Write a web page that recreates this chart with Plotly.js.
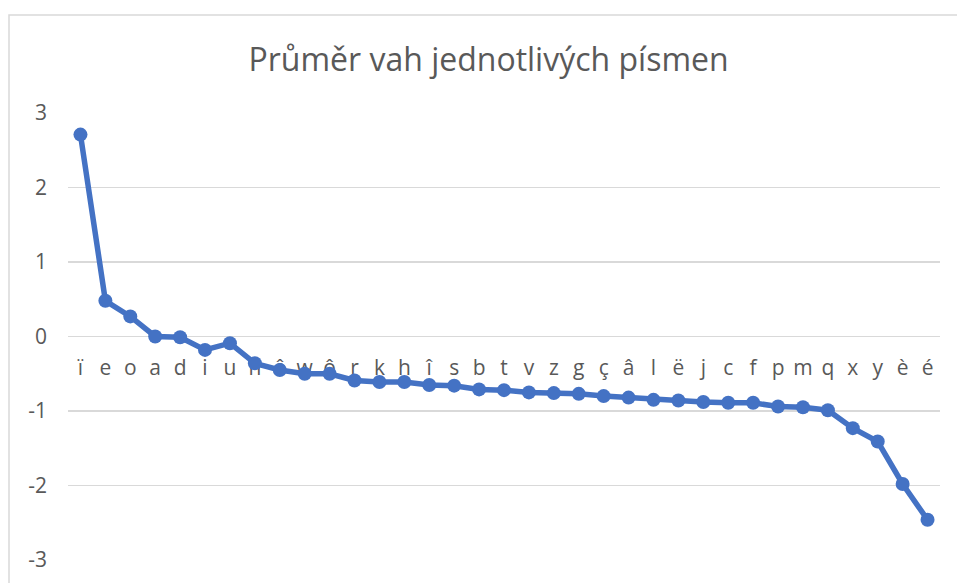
<!DOCTYPE html>
<html>
<head>
<meta charset="utf-8">
<script src="https://cdn.plot.ly/plotly-3.0.1.min.js"></script>
<style>html,body{margin:0;padding:0;background:#fff;}#chart{width:957px;height:583px;}</style>
</head>
<body>
<div id="chart"></div>
<script>
const letters = ["ï","e","o","a","d","i","u","n","ê","w","ô","r","k","h","î","s","b","t","v","z","g","ç","â","l","ë","j","c","f","p","m","q","x","y","è","é"];
const averages = [2.71,0.48,0.27,0.00,-0.01,-0.18,-0.09,-0.36,-0.45,-0.50,-0.50,-0.59,-0.61,-0.61,-0.65,-0.66,-0.71,-0.72,-0.75,-0.76,-0.77,-0.80,-0.82,-0.85,-0.86,-0.88,-0.89,-0.89,-0.94,-0.95,-0.99,-1.23,-1.41,-1.98,-2.46];
const yTicks = [-3,-2,-1,0,1,2,3];
const chartTitle = "Průměr vah jednotlivých písmen";

const textColor = "#595959";
const trace = {
  x: letters,
  y: averages,
  type: "scatter",
  mode: "lines+markers",
  line: {color: "#4472C4", width: 5.5},
  marker: {color: "#4472C4", size: 14},
  hoverinfo: "x+y"
};
const layout = {
  width: 957, height: 583,
  margin: {l: 68, r: 17, t: 113, b: 23},
  paper_bgcolor: "#ffffff", plot_bgcolor: "#ffffff",
  showlegend: false,
  font: {family: "Open Sans, sans-serif", color: textColor},
  title: {
    text: chartTitle,
    font: {family: "Open Sans, sans-serif", size: 32, color: textColor},
    xref: "container", x: 0.5105, xanchor: "center",
    yref: "container", y: 1 - 60/583, yanchor: "middle"
  },
  xaxis: {
    type: "category",
    range: [-0.5, letters.length - 0.5],
    tickmode: "linear", tick0: 0, dtick: 1,
    anchor: "free", position: 0.5,
    showgrid: false, zeroline: false, showline: false,
    ticks: "", ticklabelstandoff: 16,
    tickfont: {size: 21, color: textColor},
    layer: "below traces",
    fixedrange: true
  },
  yaxis: {
    range: [-3, 3],
    tickvals: yTicks,
    ticktext: yTicks.map(String),
    showgrid: true, gridcolor: "#d9d9d9", gridwidth: 1.5,
    zeroline: false, showline: false,
    ticks: "", ticklabelstandoff: 20,
    tickfont: {size: 21, color: textColor},
    fixedrange: true
  },
  shapes: [{
    type: "rect", xref: "paper", yref: "paper",
    x0: (9 - 68) / 872, x1: 1.1, y0: -0.2, y1: (560 - 15) / 447,
    line: {color: "#d9d9d9", width: 1.5}, fillcolor: "rgba(0,0,0,0)",
    layer: "below"
  }]
};
Plotly.newPlot("chart", [trace], layout, {displayModeBar: false, staticPlot: true});
</script>
</body>
</html>
